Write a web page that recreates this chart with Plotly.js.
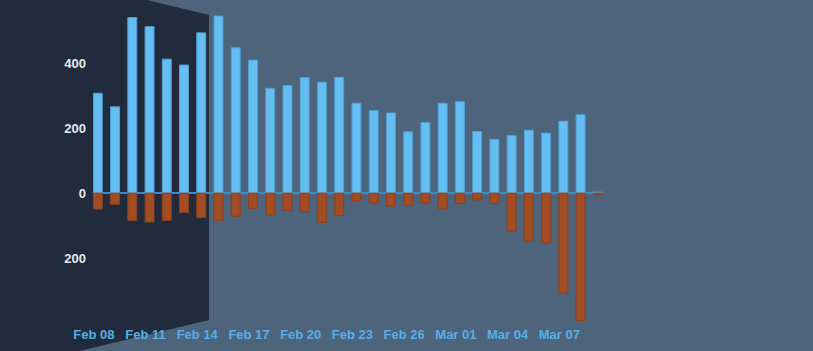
<!DOCTYPE html>
<html>
<head>
<meta charset="utf-8">
<script src="https://cdn.plot.ly/plotly-3.0.1.min.js"></script>
<style>html,body{margin:0;padding:0;background:#4e647a;}#chart{width:813px;height:351px;}</style>
</head>
<body>
<div id="chart"></div>
<script>
const dates = ['2021-02-08','2021-02-09','2021-02-10','2021-02-11','2021-02-12','2021-02-13','2021-02-14','2021-02-15','2021-02-16','2021-02-17','2021-02-18','2021-02-19','2021-02-20','2021-02-21','2021-02-22','2021-02-23','2021-02-24','2021-02-25','2021-02-26','2021-02-27','2021-02-28','2021-03-01','2021-03-02','2021-03-03','2021-03-04','2021-03-05','2021-03-06','2021-03-07','2021-03-08','2021-03-09'];
const positive = [308,266,541,513,413,395,494,546,448,410,323,332,356,342,357,277,255,247,189,218,277,282,190,166,178,194,185,222,242,3];
const negative = [-49,-34,-84,-89,-84,-60,-75,-84,-71,-47,-67,-53,-57,-90,-69,-24,-31,-40,-38,-30,-48,-32,-21,-32,-117,-148,-154,-308,-393,-5];
const xTickVals = ['2021-02-08','2021-02-11','2021-02-14','2021-02-17','2021-02-20','2021-02-23','2021-02-26','2021-03-01','2021-03-04','2021-03-07'];
const xTickText = ['Feb 08','Feb 11','Feb 14','Feb 17','Feb 20','Feb 23','Feb 26','Mar 01','Mar 04','Mar 07'];
const yTickVals = [-200,0,200,400];
const yTickText = ['200','0','200','400'];

const barWidth = 0.52*86400000;
const traces = [
  {type:'bar', x:dates, y:positive, width:barWidth,
   marker:{color:'#64bef4', line:{color:'#4f9fd2', width:1}}, hoverinfo:'x+y'},
  {type:'bar', x:dates, y:negative, width:barWidth,
   marker:{color:'#a04c24', line:{color:'#8e4221', width:1}}, hoverinfo:'x+y'}
];
const layout = {
  width:813, height:351,
  margin:{l:93, r:210, t:15, b:30},
  paper_bgcolor:'#4e647a',
  plot_bgcolor:'rgba(0,0,0,0)',
  barmode:'relative',
  showlegend:false,
  xaxis:{type:'date', range:['2021-02-07 17:18','2021-03-09 07:12'],
    tickvals:xTickVals, ticktext:xTickText, showgrid:false, zeroline:false, showline:false, ticks:'',
    ticklabelstandoff:4, ticklabelshift:-4,
    tickfont:{family:'Liberation Sans, Arial, sans-serif', size:13, color:'#5aaee4', weight:'bold'}},
  yaxis:{range:[-394,549], tickvals:yTickVals, ticktext:yTickText, showgrid:false,
    zeroline:true, zerolinecolor:'#3f88bb', zerolinewidth:2, showline:false, ticks:'', ticklabelstandoff:6,
    tickfont:{family:'Liberation Sans, Arial, sans-serif', size:13, color:'#e6e9ed', weight:'bold'}},
  shapes:[{type:'path', xref:'paper', yref:'paper', layer:'below',
    path:'M -0.1824,1.1654 L 0.2275,1.0 L 0.2275,0.0033 L -0.1824,-0.1601 Z',
    fillcolor:'#212b3b', line:{width:0}}]
};
Plotly.newPlot('chart', traces, layout, {displayModeBar:false, staticPlot:true});
</script>
</body>
</html>
